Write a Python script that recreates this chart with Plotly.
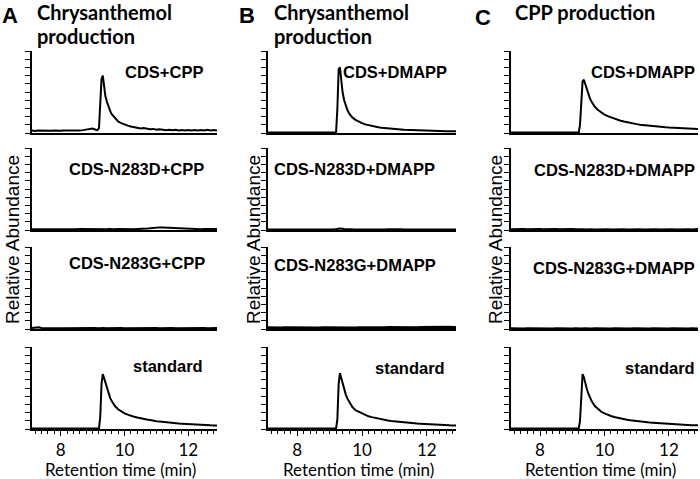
import plotly.graph_objects as go
from plotly.subplots import make_subplots

# retention time (min), shared by every trace
time_min = [7.1, 7.2, 7.3, 7.4, 7.5, 7.6, 7.7, 7.8, 7.9, 8.0, 8.1, 8.2, 8.3, 8.4, 8.5, 8.6, 8.7, 8.8, 8.9, 9.0, 9.1,
            9.15, 9.2, 9.24, 9.28, 9.32, 9.36, 9.4, 9.45, 9.5, 9.55, 9.6,
            9.7, 9.8, 9.9, 10.0, 10.1, 10.2, 10.3, 10.4, 10.5, 10.6, 10.7, 10.8, 10.9, 11.0, 11.1, 11.2, 11.3,
            11.4, 11.5, 11.6, 11.7, 11.8, 11.9, 12.0, 12.1, 12.2, 12.3, 12.4, 12.5, 12.6, 12.7, 12.8, 12.9]

# relative abundance (fraction of the panel height)
a_cds_cpp = [0.03, 0.025, 0.03, 0.028, 0.025, 0.03, 0.027, 0.03, 0.025, 0.028, 0.03, 0.027, 0.03, 0.032, 0.028,
             0.03, 0.035, 0.04, 0.05, 0.055, 0.04,
             0.035, 0.06, 0.35, 0.66, 0.70, 0.55, 0.45, 0.38, 0.32, 0.27, 0.23,
             0.18, 0.14, 0.12, 0.10, 0.09, 0.08, 0.07, 0.065, 0.055, 0.06, 0.05, 0.045, 0.05, 0.04, 0.045, 0.04,
             0.035, 0.04, 0.035, 0.04, 0.03, 0.035, 0.03, 0.035, 0.03, 0.035, 0.03, 0.035, 0.03, 0.04, 0.03,
             0.035, 0.03]
a_n283d_cpp = [0.01, 0.008, 0.01, 0.012, 0.008, 0.01, 0.009, 0.012, 0.01, 0.008, 0.01, 0.012, 0.009, 0.01, 0.008,
               0.011, 0.01, 0.009, 0.012, 0.01, 0.009,
               0.01, 0.012, 0.011, 0.01, 0.012, 0.01, 0.011, 0.01, 0.012, 0.01, 0.011,
               0.01, 0.012, 0.01, 0.011, 0.01, 0.012, 0.01, 0.013, 0.012, 0.015, 0.017, 0.02, 0.025, 0.03, 0.032,
               0.03, 0.028, 0.025, 0.022, 0.018, 0.015, 0.013, 0.012, 0.01, 0.011, 0.01, 0.012, 0.01, 0.011,
               0.01, 0.012, 0.01, 0.011]
a_n283g_cpp = [0.012, 0.015, 0.02, 0.012, 0.01, 0.011, 0.01, 0.012, 0.01, 0.009, 0.01, 0.011, 0.01, 0.012, 0.01,
               0.009, 0.011, 0.01, 0.012, 0.01, 0.011,
               0.01, 0.012, 0.01, 0.011, 0.01, 0.012, 0.01, 0.011, 0.01, 0.012, 0.01,
               0.011, 0.01, 0.012, 0.01, 0.011, 0.01, 0.012, 0.01, 0.011, 0.01, 0.012, 0.01, 0.011, 0.013, 0.01,
               0.012, 0.011, 0.01, 0.012, 0.01, 0.011, 0.01, 0.012, 0.01, 0.011, 0.01, 0.012, 0.01, 0.011,
               0.01, 0.012, 0.01, 0.011]
a_standard = [0.005, 0.005, 0.005, 0.005, 0.005, 0.005, 0.005, 0.005, 0.005, 0.005, 0.005, 0.005, 0.005, 0.005,
              0.005, 0.005, 0.005, 0.005, 0.005, 0.005, 0.005,
              0.005, 0.005, 0.15, 0.55, 0.67, 0.62, 0.55, 0.48, 0.43, 0.38, 0.34,
              0.28, 0.24, 0.21, 0.19, 0.175, 0.16, 0.15, 0.14, 0.13, 0.12, 0.115, 0.11, 0.10, 0.095, 0.09,
              0.085, 0.08, 0.078, 0.075, 0.07, 0.067, 0.065, 0.062, 0.06, 0.057, 0.055, 0.052, 0.05, 0.048,
              0.046, 0.045, 0.044, 0.043]

b_cds_dmapp = [0.005, 0.005, 0.005, 0.005, 0.005, 0.005, 0.005, 0.005, 0.005, 0.005, 0.005, 0.005, 0.005, 0.005,
               0.005, 0.005, 0.005, 0.005, 0.005, 0.005, 0.005,
               0.005, 0.006, 0.30, 0.78, 0.80, 0.62, 0.50, 0.40, 0.33, 0.28, 0.24,
               0.19, 0.16, 0.135, 0.12, 0.105, 0.095, 0.085, 0.078, 0.07, 0.065, 0.06, 0.055, 0.052, 0.048, 0.045,
               0.043, 0.04, 0.038, 0.036, 0.034, 0.032, 0.031, 0.03, 0.028, 0.027, 0.026, 0.025, 0.024, 0.023,
               0.022, 0.022, 0.021, 0.02]
b_n283d_dmapp = [0.006, 0.005, 0.006, 0.005, 0.006, 0.005, 0.006, 0.005, 0.006, 0.005, 0.006, 0.005, 0.006, 0.005,
                 0.006, 0.005, 0.006, 0.005, 0.006, 0.005, 0.006,
                 0.006, 0.008, 0.012, 0.018, 0.02, 0.018, 0.015, 0.012, 0.01, 0.008, 0.007,
                 0.006, 0.005, 0.006, 0.005, 0.006, 0.005, 0.006, 0.005, 0.006, 0.005, 0.006, 0.008, 0.01, 0.012,
                 0.01, 0.008, 0.006, 0.005, 0.006, 0.005, 0.006, 0.005, 0.006, 0.005, 0.006, 0.005, 0.006, 0.005,
                 0.006, 0.005, 0.006, 0.005, 0.006]
b_n283g_dmapp = [0.014, 0.012, 0.014, 0.013, 0.012, 0.014, 0.013, 0.012, 0.014, 0.013, 0.012, 0.014, 0.013, 0.012,
                 0.014, 0.013, 0.012, 0.014, 0.013, 0.012, 0.014,
                 0.013, 0.016, 0.018, 0.016, 0.014, 0.013, 0.012, 0.014, 0.013, 0.012, 0.014,
                 0.013, 0.012, 0.014, 0.013, 0.012, 0.014, 0.013, 0.015, 0.014, 0.016, 0.015, 0.017, 0.016, 0.015,
                 0.017, 0.016, 0.015, 0.017, 0.016, 0.018, 0.016, 0.017, 0.018, 0.016, 0.017, 0.018, 0.019, 0.017,
                 0.018, 0.019, 0.02, 0.018, 0.019]
b_standard = [0.005, 0.005, 0.005, 0.005, 0.005, 0.005, 0.005, 0.005, 0.005, 0.005, 0.005, 0.005, 0.005, 0.005,
              0.005, 0.005, 0.005, 0.005, 0.005, 0.005, 0.005,
              0.005, 0.005, 0.12, 0.55, 0.68, 0.62, 0.55, 0.48, 0.42, 0.37, 0.33,
              0.27, 0.23, 0.21, 0.19, 0.17, 0.155, 0.145, 0.135, 0.125, 0.117, 0.11, 0.104, 0.098, 0.093, 0.088,
              0.084, 0.08, 0.076, 0.073, 0.07, 0.067, 0.064, 0.061, 0.058, 0.056, 0.054, 0.052, 0.05, 0.048,
              0.046, 0.045, 0.044, 0.043]

c_cds_dmapp = [0.005, 0.005, 0.005, 0.005, 0.005, 0.005, 0.005, 0.005, 0.005, 0.005, 0.005, 0.005, 0.005, 0.005,
               0.005, 0.005, 0.005, 0.005, 0.005, 0.005, 0.005,
               0.005, 0.005, 0.10, 0.45, 0.63, 0.65, 0.60, 0.53, 0.47, 0.42, 0.38,
               0.32, 0.28, 0.25, 0.225, 0.205, 0.19, 0.175, 0.16, 0.15, 0.14, 0.13, 0.122, 0.115, 0.108, 0.102,
               0.097, 0.092, 0.088, 0.084, 0.08, 0.077, 0.074, 0.071, 0.068, 0.066, 0.063, 0.061, 0.059, 0.057,
               0.055, 0.053, 0.052, 0.05]
c_n283d_dmapp = [0.008, 0.01, 0.007, 0.009, 0.011, 0.008, 0.01, 0.007, 0.009, 0.011, 0.008, 0.01, 0.007, 0.009,
                 0.011, 0.008, 0.01, 0.007, 0.009, 0.011, 0.008,
                 0.01, 0.007, 0.009, 0.011, 0.008, 0.01, 0.007, 0.009, 0.011, 0.008, 0.01,
                 0.007, 0.009, 0.011, 0.008, 0.01, 0.007, 0.009, 0.011, 0.008, 0.01, 0.007, 0.009, 0.011, 0.008,
                 0.01, 0.007, 0.009, 0.011, 0.008, 0.01, 0.007, 0.009, 0.011, 0.008, 0.01, 0.007, 0.009, 0.011,
                 0.008, 0.01, 0.007, 0.009, 0.011]
c_n283g_dmapp = [0.009, 0.007, 0.01, 0.008, 0.007, 0.01, 0.009, 0.007, 0.01, 0.008, 0.007, 0.01, 0.009, 0.007,
                 0.01, 0.008, 0.007, 0.01, 0.009, 0.007, 0.01,
                 0.008, 0.007, 0.01, 0.009, 0.007, 0.01, 0.008, 0.007, 0.01, 0.009, 0.007,
                 0.01, 0.008, 0.007, 0.01, 0.009, 0.007, 0.01, 0.008, 0.007, 0.01, 0.009, 0.007, 0.01, 0.008,
                 0.007, 0.01, 0.009, 0.007, 0.01, 0.008, 0.007, 0.01, 0.009, 0.007, 0.01, 0.008, 0.007, 0.01,
                 0.009, 0.007, 0.01, 0.008, 0.007]
c_standard = [0.005, 0.005, 0.005, 0.005, 0.005, 0.005, 0.005, 0.005, 0.005, 0.005, 0.005, 0.005, 0.005, 0.005,
              0.005, 0.005, 0.005, 0.005, 0.005, 0.005, 0.005,
              0.005, 0.005, 0.10, 0.50, 0.67, 0.63, 0.56, 0.49, 0.43, 0.38, 0.34,
              0.28, 0.24, 0.21, 0.19, 0.172, 0.158, 0.146, 0.136, 0.127, 0.119, 0.112, 0.106, 0.1, 0.095, 0.09,
              0.086, 0.082, 0.078, 0.075, 0.072, 0.069, 0.066, 0.063, 0.06, 0.058, 0.056, 0.054, 0.052, 0.05,
              0.048, 0.047, 0.046, 0.045]

series = [
    [a_cds_cpp, b_cds_dmapp, c_cds_dmapp],
    [a_n283d_cpp, b_n283d_dmapp, c_n283d_dmapp],
    [a_n283g_cpp, b_n283g_dmapp, c_n283g_dmapp],
    [a_standard, b_standard, c_standard],
]
panel_letters = ["A", "B", "C"]
panel_titles = [["Chrysanthemol", "production"], ["Chrysanthemol", "production"], ["CPP production"]]
sample_labels = [
    ["CDS+CPP", "CDS+DMAPP", "CDS+DMAPP"],
    ["CDS-N283D+CPP", "CDS-N283D+DMAPP", "CDS-N283D+DMAPP"],
    ["CDS-N283G+CPP", "CDS-N283G+DMAPP", "CDS-N283G+DMAPP"],
    ["standard", "standard", "standard"],
]
x_ticks = [8, 10, 12]

W, H = 700, 479


def px(x):
    return x / W


def py(y):
    return 1 - y / H


col_px = [(32, 217), (268, 456), (511, 698)]
row_px = [(51, 133), (148, 230), (247, 329), (347, 429)]

fig = make_subplots(rows=4, cols=3)

for r in range(4):
    for c in range(3):
        fig.add_trace(go.Scatter(x=time_min, y=series[r][c], mode="lines",
                                 line=dict(color="black", width=2 if not (r == 2 and c == 1) else 3),
                                 showlegend=False, hoverinfo="skip"),
                      row=r + 1, col=c + 1)
        fig.update_xaxes(domain=[px(col_px[c][0]), px(col_px[c][1])], range=[7.1, 12.9],
                         showline=True, linecolor="black", linewidth=1.5, showgrid=False, zeroline=False,
                         row=r + 1, col=c + 1)
        fig.update_yaxes(domain=[py(row_px[r][1]), py(row_px[r][0])], range=[0, 1],
                         showline=True, linecolor="black", linewidth=1.5, showgrid=False, zeroline=False,
                         ticks="outside", ticklen=5, tickwidth=1, tickcolor="black", dtick=0.1, tick0=0,
                         showticklabels=False, row=r + 1, col=c + 1)
        if r < 3:
            fig.update_xaxes(ticks="", showticklabels=False, row=r + 1, col=c + 1)
        else:
            fig.update_xaxes(tickvals=x_ticks, ticks="outside", ticklen=5, tickwidth=1, tickcolor="black",
                             tickfont=dict(family="Lato", size=17, color="black"),
                             minor=dict(dtick=0.2, tick0=7, ticks="outside", ticklen=3, tickcolor="black"),
                             row=r + 1, col=c + 1)

ann = []
bold = dict(family="Liberation Sans", size=16.5, color="black")
title_font = dict(family="Lato", size=20, color="black")

letter_pos = [(10, 16), (247, 16), (483, 17)]
title_x = [35, 272, 513]
for c in range(3):
    ann.append(dict(text="<b>%s</b>" % panel_letters[c], x=px(letter_pos[c][0]), y=py(letter_pos[c][1]),
                    xanchor="center", yanchor="middle",
                    font=dict(family="Liberation Sans", size=22, color="black")))
    for i, line in enumerate(panel_titles[c]):
        ann.append(dict(text="<b>%s</b>" % line, x=px(title_x[c]), y=py(12 + 24 * i),
                        xanchor="left", yanchor="middle", font=title_font))
    mid = (col_px[c][0] + col_px[c][1]) / 2
    ann.append(dict(text="Retention time (min)", x=px(mid - 4), y=py(469), xanchor="center", yanchor="middle",
                    font=dict(family="Lato", size=17, color="black")))

ylab_x = [12, 253, 495]
for c in range(3):
    ann.append(dict(text="Relative Abundance", x=px(ylab_x[c]), y=py(240), textangle=-90,
                    xanchor="center", yanchor="middle",
                    font=dict(family="Liberation Sans", size=19, color="black")))

# sample label placement: (x, y, anchor)
label_pos = [
    [(205, 72, "right"), (341, 72, "left"), (697, 72, "right")],
    [(67, 169, "left"), (272, 169, "left"), (697, 170, "right")],
    [(67, 263, "left"), (272, 265, "left"), (697, 268, "right")],
    [(205, 366, "right"), (447, 368, "right"), (697, 368, "right")],
]
for r in range(4):
    for c in range(3):
        x, y, a = label_pos[r][c]
        ann.append(dict(text="<b>%s</b>" % sample_labels[r][c], x=px(x), y=py(y), xanchor=a,
                        yanchor="middle", font=bold))

for a in ann:
    a.update(xref="paper", yref="paper", showarrow=False)

fig.update_layout(width=W, height=H, margin=dict(l=0, r=0, t=0, b=0),
                  plot_bgcolor="white", paper_bgcolor="white", annotations=ann)

fig.write_html("out.html", config={"displayModeBar": False},
               post_script="document.body.style.margin='0px';document.body.style.overflow='hidden';")
